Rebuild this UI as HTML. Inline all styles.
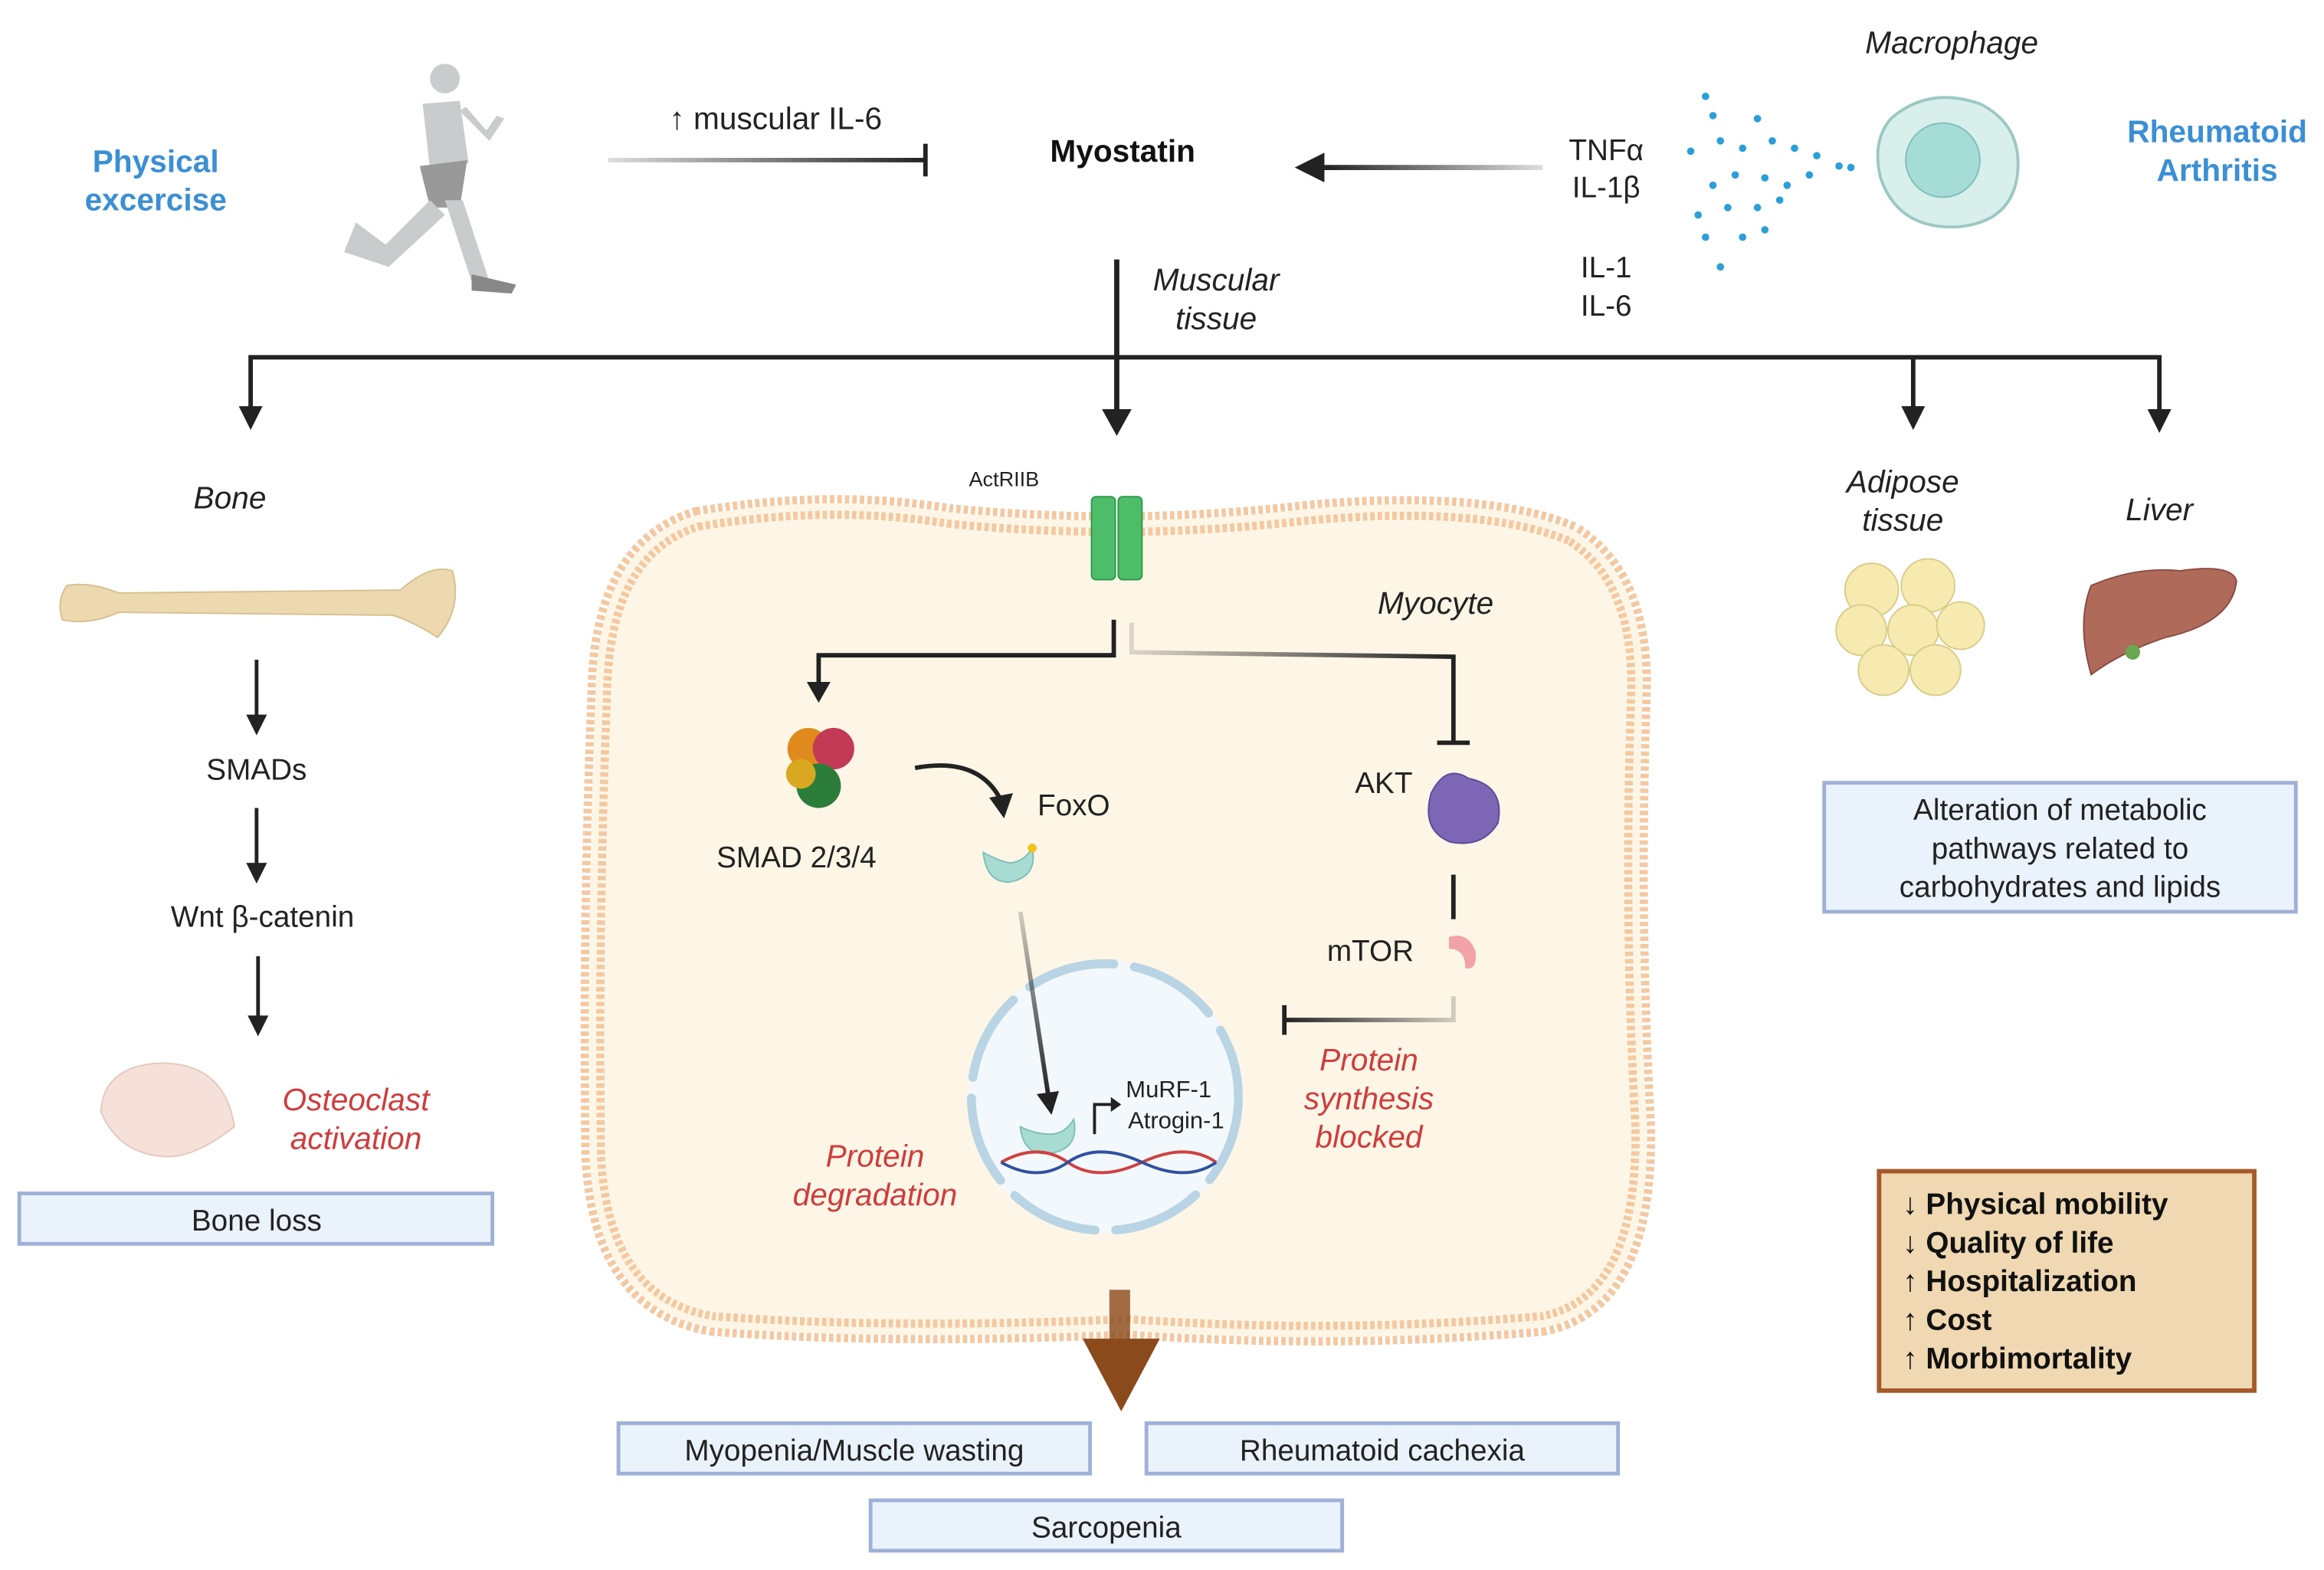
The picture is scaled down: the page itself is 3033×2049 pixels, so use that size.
<!DOCTYPE html>
<html><head><meta charset="utf-8"><style>
html,body{margin:0;padding:0;background:#fff}
svg{display:block}
text{font-family:"Liberation Sans",sans-serif}
</style></head><body>
<svg width="3033" height="2049" viewBox="0 0 1567 1059" preserveAspectRatio="none" xmlns="http://www.w3.org/2000/svg">
<defs>
<linearGradient id="g1" gradientUnits="userSpaceOnUse" x1="410" y1="0" x2="624" y2="0"><stop offset="0" stop-color="#222" stop-opacity="0.15"/><stop offset="1" stop-color="#222"/></linearGradient>
<linearGradient id="g2" gradientUnits="userSpaceOnUse" x1="1040" y1="0" x2="893" y2="0"><stop offset="0" stop-color="#222" stop-opacity="0.15"/><stop offset="1" stop-color="#222"/></linearGradient>
<linearGradient id="g3" gradientUnits="userSpaceOnUse" x1="763" y1="0" x2="980" y2="0"><stop offset="0" stop-color="#222" stop-opacity="0.15"/><stop offset="1" stop-color="#222"/></linearGradient>
<linearGradient id="g4" gradientUnits="userSpaceOnUse" x1="980" y1="0" x2="866" y2="0"><stop offset="0" stop-color="#222" stop-opacity="0.2"/><stop offset="1" stop-color="#222"/></linearGradient>
<linearGradient id="g5" gradientUnits="userSpaceOnUse" x1="0" y1="615" x2="0" y2="740"><stop offset="0" stop-color="#222" stop-opacity="0.2"/><stop offset="1" stop-color="#222"/></linearGradient>
</defs>
<rect width="1567" height="1059" fill="#fff"/>
<!-- top -->
<text x="105" y="116" font-size="21" font-weight="bold" fill="#3b8fd4" text-anchor="middle">Physical</text>
<text x="105" y="142" font-size="21" font-weight="bold" fill="#3b8fd4" text-anchor="middle">excercise</text>
<g fill="#c8cccc">
<circle cx="300" cy="53" r="10"/><path d="M285,70 L310,68 L316,110 L290,115 Z"/><path d="M283,112 L315,108 L310,140 L290,140 Z" fill="#999"/>
<path d="M290,135 L260,165 L240,150 L232,170 L262,180 L300,145 Z"/><path d="M300,135 L318,190 L330,190 L312,135Z"/>
<path d="M318,185 L348,192 L345,198 L318,196Z" fill="#888"/><path d="M310,75 L330,95 L340,80 L335,78 L328,88 L314,72Z"/></g>
<text x="523" y="87" font-size="21" text-anchor="middle" fill="#222">↑ muscular IL-6</text>
<path d="M410,108 H624" stroke="url(#g1)" stroke-width="3"/>
<line x1="624" y1="97" x2="624" y2="119" stroke="#222" stroke-width="3"/>
<text x="757" y="109" font-size="21" font-weight="bold" text-anchor="middle" fill="#111">Myostatin</text>
<path d="M1040,113 H893" stroke="url(#g2)" stroke-width="3.5"/>
<path d="M873,113 L893,103 L893,123Z" fill="#222"/>
<text x="1083" y="108" font-size="20" text-anchor="middle" fill="#222">TNFα</text>
<text x="1083" y="133" font-size="20" text-anchor="middle" fill="#222">IL-1β</text>
<text x="1083" y="187" font-size="20" text-anchor="middle" fill="#222">IL-1</text>
<text x="1083" y="213" font-size="20" text-anchor="middle" fill="#222">IL-6</text>
<g fill="#2a9fd8">
<circle cx="1150" cy="65" r="2.5"/><circle cx="1155" cy="78" r="2.5"/><circle cx="1185" cy="80" r="2.5"/><circle cx="1140" cy="102" r="2.5"/><circle cx="1160" cy="95" r="2.5"/><circle cx="1175" cy="100" r="2.5"/><circle cx="1195" cy="95" r="2.5"/><circle cx="1210" cy="100" r="2.5"/><circle cx="1225" cy="105" r="2.5"/><circle cx="1240" cy="112" r="2.5"/><circle cx="1248" cy="113" r="2.5"/><circle cx="1155" cy="125" r="2.5"/><circle cx="1170" cy="118" r="2.5"/><circle cx="1190" cy="120" r="2.5"/><circle cx="1205" cy="125" r="2.5"/><circle cx="1220" cy="118" r="2.5"/><circle cx="1145" cy="145" r="2.5"/><circle cx="1165" cy="140" r="2.5"/><circle cx="1185" cy="140" r="2.5"/><circle cx="1200" cy="135" r="2.5"/><circle cx="1150" cy="160" r="2.5"/><circle cx="1175" cy="160" r="2.5"/><circle cx="1190" cy="155" r="2.5"/><circle cx="1160" cy="180" r="2.5"/></g>
<text x="1316" y="36" font-size="21" font-style="italic" text-anchor="middle" fill="#222">Macrophage</text>
<path d="M1275,80 Q1300,58 1335,70 Q1365,85 1360,120 Q1355,150 1320,153 Q1280,155 1268,120 Q1262,95 1275,80Z" fill="#d8efec" stroke="#9cc8c4" stroke-width="2"/>
<circle cx="1310" cy="108" r="25" fill="#a6dcd6" stroke="#7fbfb8"/>
<text x="1495" y="96" font-size="21" font-weight="bold" fill="#3b8fd4" text-anchor="middle">Rheumatoid</text>
<text x="1495" y="122" font-size="21" font-weight="bold" fill="#3b8fd4" text-anchor="middle">Arthritis</text>
<!-- distribution -->
<line x1="753" y1="175" x2="753" y2="278" stroke="#222" stroke-width="3.5"/>
<path d="M743,276 L753,294 L763,276Z" fill="#222"/>
<text x="820" y="196" font-size="21" font-style="italic" text-anchor="middle" fill="#222">Muscular</text>
<text x="820" y="222" font-size="21" font-style="italic" text-anchor="middle" fill="#222">tissue</text>
<path d="M169,276 V241 H1456 V276 M1290,241 V276" fill="none" stroke="#222" stroke-width="3"/>
<path d="M161,274 L169,290 L177,274Z M1282,274 L1290,290 L1298,274Z M1448,276 L1456,292 L1464,276Z" fill="#222"/>
<!-- bone column -->
<text x="155" y="343" font-size="21" font-style="italic" text-anchor="middle" fill="#222">Bone</text>
<path d="M45,395 Q60,392 80,400 L270,398 Q290,380 305,385 Q312,410 295,430 Q280,420 265,415 L80,413 Q60,422 42,418 Q38,405 45,395Z" fill="#ecd9b0" stroke="#d6c090"/>
<g stroke="#222" stroke-width="2.5" fill="none"><line x1="173" y1="445" x2="173" y2="485"/><line x1="173" y1="545" x2="173" y2="585"/><line x1="174" y1="645" x2="174" y2="688"/></g>
<path d="M166,482 L173,496 L180,482Z M166,582 L173,596 L180,582Z M167,685 L174,699 L181,685Z" fill="#222"/>
<text x="173" y="526" font-size="20" text-anchor="middle" fill="#222">SMADs</text>
<text x="177" y="625" font-size="20" text-anchor="middle" fill="#222">Wnt β-catenin</text>
<path d="M68,750 Q70,718 110,717 Q152,718 158,760 Q130,782 110,780 Q80,778 68,750Z" fill="#f5e1da" stroke="#e4c8bd"/>
<text x="240" y="749" font-size="21" font-style="italic" text-anchor="middle" fill="#d03c3c">Osteoclast</text>
<text x="240" y="775" font-size="21" font-style="italic" text-anchor="middle" fill="#d03c3c">activation</text>
<rect x="13" y="805" width="319" height="34" fill="#eaf2fb" stroke="#9fb0d8" stroke-width="2.5"/>
<text x="173" y="830" font-size="20" text-anchor="middle" fill="#222">Bone loss</text>
<!-- cell -->
<path d="M470,350 Q560,335 640,348 Q760,360 880,346 Q1000,335 1060,360 Q1108,390 1105,470 Q1100,620 1108,760 Q1110,880 1040,893 Q900,905 760,895 Q600,902 480,893 Q405,880 400,780 Q398,620 404,470 Q405,370 470,350Z" fill="#fdf6e6" stroke="#f4c8a0" stroke-width="16" stroke-dasharray="3 2"/>
<path d="M470,350 Q560,335 640,348 Q760,360 880,346 Q1000,335 1060,360 Q1108,390 1105,470 Q1100,620 1108,760 Q1110,880 1040,893 Q900,905 760,895 Q600,902 480,893 Q405,880 400,780 Q398,620 404,470 Q405,370 470,350Z" fill="none" stroke="#fdf6e6" stroke-width="5"/>
<rect x="736" y="335" width="16" height="56" rx="3" fill="#4dbd6a" stroke="#2e9a4a"/>
<rect x="754" y="335" width="16" height="56" rx="3" fill="#4dbd6a" stroke="#2e9a4a"/>
<text x="677" y="328" font-size="14" text-anchor="middle" fill="#222">ActRIIB</text>
<text x="968" y="414" font-size="21" font-style="italic" text-anchor="middle" fill="#222">Myocyte</text>
<path d="M751,418 V442 H552 V462" fill="none" stroke="#222" stroke-width="3"/>
<path d="M544,460 L552,474 L560,460Z" fill="#222"/>
<path d="M763,420 V440 L980,443 V500" fill="none" stroke="url(#g3)" stroke-width="3"/>
<line x1="969" y1="501" x2="991" y2="501" stroke="#222" stroke-width="3"/>
<g><circle cx="545" cy="505" r="14" fill="#e08a1e"/><circle cx="562" cy="505" r="14" fill="#c23a55"/><circle cx="552" cy="530" r="15" fill="#2d7d3a"/><circle cx="540" cy="522" r="10" fill="#d9a820"/></g>
<text x="537" y="585" font-size="20" text-anchor="middle" fill="#222">SMAD 2/3/4</text>
<path d="M617,518 Q660,510 675,540" fill="none" stroke="#222" stroke-width="3"/>
<path d="M667,538 L677,552 L683,535Z" fill="#222"/>
<text x="724" y="550" font-size="20" text-anchor="middle" fill="#222">FoxO</text>
<path d="M663,575 Q665,595 680,595 Q700,592 696,572 Q690,582 680,582 Q672,580 663,575Z" fill="#a8dcd2" stroke="#7cc0b5"/>
<circle cx="696" cy="572" r="3" fill="#f2c21a"/>
<text x="933" y="535" font-size="20" text-anchor="middle" fill="#222">AKT</text>
<path d="M965,535 Q975,515 990,525 Q1015,530 1010,555 Q1000,572 978,568 Q958,560 965,535Z" fill="#7e66b6" stroke="#5f4a98"/>
<line x1="980" y1="590" x2="980" y2="620" stroke="#222" stroke-width="3"/>
<text x="924" y="648" font-size="20" text-anchor="middle" fill="#222">mTOR</text>
<path d="M977,632 Q990,628 995,642 Q996,655 988,653 Q988,640 977,640Z" fill="#f2a3a8"/>
<path d="M980,672 V688 H866" fill="none" stroke="url(#g4)" stroke-width="3"/>
<line x1="866" y1="678" x2="866" y2="698" stroke="#222" stroke-width="3"/>
<text x="923" y="722" font-size="21" font-style="italic" text-anchor="middle" fill="#d03c3c">Protein</text>
<text x="923" y="748" font-size="21" font-style="italic" text-anchor="middle" fill="#d03c3c">synthesis</text>
<text x="923" y="774" font-size="21" font-style="italic" text-anchor="middle" fill="#d03c3c">blocked</text>
<circle cx="745" cy="740" r="92" fill="#f3f8fc"/>
<circle cx="745" cy="740" r="90" fill="none" stroke="#b9d4e4" stroke-width="6" stroke-dasharray="60 14" stroke-linecap="round"/>
<path d="M688,615 L707,740" stroke="url(#g5)" stroke-width="3"/>
<path d="M699,738 L709,752 L714,736Z" fill="#222"/>
<path d="M688,760 Q690,780 708,778 Q728,775 724,755 Q718,765 708,765 Q698,765 688,760Z" fill="#a8dcd2" stroke="#7cc0b5"/>
<path d="M675,784 Q700,770 720,784 T770,784 T820,784" fill="none" stroke="#d04040" stroke-width="2"/>
<path d="M675,784 Q700,798 720,784 T770,784 T820,784" fill="none" stroke="#3050a0" stroke-width="2"/>
<path d="M738,765 V745 H750" fill="none" stroke="#222" stroke-width="2"/>
<path d="M749,740 L756,745 L749,750Z" fill="#222"/>
<text x="788" y="740" font-size="16" text-anchor="middle" fill="#222">MuRF-1</text>
<text x="793" y="761" font-size="16" text-anchor="middle" fill="#222">Atrogin-1</text>
<text x="590" y="787" font-size="21" font-style="italic" text-anchor="middle" fill="#d03c3c">Protein</text>
<text x="590" y="813" font-size="21" font-style="italic" text-anchor="middle" fill="#d03c3c">degradation</text>
<rect x="748" y="870" width="14" height="35" fill="#8a4a1c" opacity="0.8"/>
<path d="M730,903 L782,903 L756,952Z" fill="#8a4a1c"/>
<!-- right -->
<text x="1283" y="332" font-size="21" font-style="italic" text-anchor="middle" fill="#222">Adipose</text>
<text x="1283" y="358" font-size="21" font-style="italic" text-anchor="middle" fill="#222">tissue</text>
<g fill="#f7eab0" stroke="#d8cc88"><circle cx="1262" cy="398" r="18"/><circle cx="1300" cy="395" r="18"/><circle cx="1255" cy="425" r="17"/><circle cx="1290" cy="425" r="17"/><circle cx="1322" cy="422" r="16"/><circle cx="1270" cy="452" r="17"/><circle cx="1305" cy="452" r="17"/></g>
<text x="1456" y="351" font-size="21" font-style="italic" text-anchor="middle" fill="#222">Liver</text>
<path d="M1410,395 Q1440,382 1470,385 Q1505,380 1508,392 Q1505,420 1460,430 Q1430,440 1410,455 Q1400,420 1410,395Z" fill="#b06a5a" stroke="#8a4a40"/>
<circle cx="1438" cy="440" r="5" fill="#6aa850"/>
<rect x="1230" y="528" width="318" height="87" fill="#eaf2fb" stroke="#9fb0d8" stroke-width="2.5"/>
<text x="1389" y="553" font-size="20" text-anchor="middle" fill="#222">Alteration of metabolic</text>
<text x="1389" y="579" font-size="20" text-anchor="middle" fill="#222">pathways related to</text>
<text x="1389" y="605" font-size="20" text-anchor="middle" fill="#222">carbohydrates and lipids</text>
<rect x="1267" y="790" width="253" height="148" fill="#efd8b2" stroke="#a55a2a" stroke-width="3"/>
<g font-size="20" font-weight="bold" fill="#111">
<text x="1283" y="819">↓ Physical mobility</text><text x="1283" y="845">↓ Quality of life</text><text x="1283" y="871">↑ Hospitalization</text><text x="1283" y="897">↑ Cost</text><text x="1283" y="923">↑ Morbimortality</text></g>
<!-- bottom boxes -->
<g fill="#eaf2fb" stroke="#9fb0d8" stroke-width="2.5">
<rect x="417" y="960" width="318" height="34"/><rect x="773" y="960" width="318" height="34"/><rect x="587" y="1012" width="318" height="34"/></g>
<g font-size="20" text-anchor="middle" fill="#222">
<text x="576" y="985">Myopenia/Muscle wasting</text><text x="932" y="985">Rheumatoid cachexia</text><text x="746" y="1037">Sarcopenia</text></g>
</svg>
</body></html>
